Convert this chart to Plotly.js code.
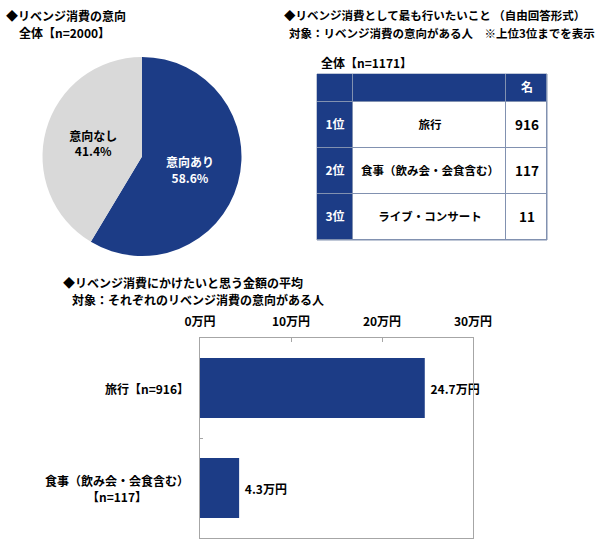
<!DOCTYPE html>
<html><head><meta charset="utf-8">
<script src="https://cdn.plot.ly/plotly-3.0.1.min.js"></script>
<style>html,body{margin:0;padding:0;background:#fff}#c{width:600px;height:544px}</style>
</head><body><div id="c"></div>
<script>
// Pie data
const pieLabels = ['意向あり', '意向なし'];
const pieValues = [58.6, 41.4];
// Table data
const tableHeader = ['', '', '名'];
const ranks = ['1位', '2位', '3位'];
const items = ['旅行', '食事（飲み会・会食含む）', 'ライブ・コンサート'];
const counts = [916, 117, 11];
// Bar data
const barCats = ['旅行【n=916】', '食事（飲み会・会食含む）<br>【n=117】'];
const barValues = [24.7, 4.3];
const xTicks = [0, 10, 20, 30];

const NAVY = '#1c3c86';
const GRID = '#8191b0';
const FONT = '"Noto Sans CJK JP", "Noto Sans", sans-serif';
const W = 600, H = 544;
const px = v => v / W, py = v => 1 - v / H;

// table geometry (layout only)
const colEdges = [0, 36, 189, 230];
const rowEdges = [0, 28, 74, 120, 166];
const tL = 317, tR = 547, tT = 74, tB = 240;

// table cells built from the data arrays: row 0 = header, rows 1.. = ranking
const tableText = [tableHeader].concat(ranks.map((r, i) => [r, items[i], String(counts[i])]));
const isNavy = (i, j) => i === 0 || j === 0;
// one heatmap layer per cell style
function layer(pick) {
  return {
    z: tableText.map((row, i) => row.map((_, j) => pick(i, j) ? (isNavy(i, j) ? 1 : 0) : null)),
    text: tableText.map((row, i) => row.map((t, j) => pick(i, j) ? t : ''))
  };
}
const navyLayer = layer((i, j) => isNavy(i, j));
const itemLayer = layer((i, j) => !isNavy(i, j) && j === 1);
const countLayer = layer((i, j) => !isNavy(i, j) && j === 2);

function cellTrace(l, font) {
  return {
    type: 'heatmap', x: colEdges, y: rowEdges, z: l.z, text: l.text,
    texttemplate: '%{text}', textfont: Object.assign({family: FONT, weight: 700}, font),
    colorscale: [[0, '#ffffff'], [1, NAVY]], zmin: 0, zmax: 1, showscale: false,
    xgap: 1, ygap: 1, hoverinfo: 'none', xaxis: 'x2', yaxis: 'y2'
  };
}

const traces = [
  {
    type: 'pie', labels: pieLabels, values: pieValues, sort: false,
    direction: 'clockwise', rotation: 0,
    domain: {x: [px(42), px(242)], y: [py(256), py(57)]},
    marker: {colors: [NAVY, '#d9d9d9'], line: {width: 0}},
    texttemplate: '%{label}<br>%{value:.1f}%', textposition: 'inside',
    insidetextorientation: 'horizontal',
    insidetextfont: {family: FONT, size: 12, weight: 700, color: ['#ffffff', '#000000']},
    hoverinfo: 'none'
  },
  cellTrace(navyLayer, {size: 12, color: '#ffffff'}),
  cellTrace(itemLayer, {size: 11.5, color: '#000000'}),
  cellTrace(countLayer, {size: 13.5, color: '#000000'}),
  {
    type: 'bar', orientation: 'h', y: barCats, x: barValues, width: 0.6,
    marker: {color: NAVY, line: {width: 0}},
    texttemplate: ' %{x}万円', textposition: 'outside', cliponaxis: false,
    textfont: {family: FONT, size: 12, weight: 700, color: '#000000'},
    hoverinfo: 'none', xaxis: 'x', yaxis: 'y'
  }
];

const annotations = [
  {text: '◆リベンジ消費の意向', x: px(4), y: py(15), size: 12},
  {text: '全体【n=2000】', x: px(17), y: py(32), size: 12},
  {text: '◆リベンジ消費として最も行いたいこと （自由回答形式）', x: px(282), y: py(15), size: 11.5},
  {text: '対象：リベンジ消費の意向がある人　※上位3位までを表示', x: px(287), y: py(33), size: 11.5},
  {text: '全体【n=1171】', x: px(319), y: py(62), size: 12},
  {text: '◆リベンジ消費にかけたいと思う金額の平均', x: px(61), y: py(282), size: 12},
  {text: '対象：それぞれのリベンジ消費の意向がある人', x: px(70), y: py(299), size: 12}
].map(a => ({text: a.text, x: a.x, y: a.y, xref: 'paper', yref: 'paper', xanchor: 'left', yanchor: 'middle',
  showarrow: false, font: {family: FONT, size: a.size, weight: 700, color: '#000'}}));

barCats.forEach(c => annotations.push({
  text: c, xref: 'paper', yref: 'y', x: px(191), y: c, xanchor: 'right', yanchor: 'middle',
  align: 'center', showarrow: false, font: {family: FONT, size: 12, weight: 700, color: '#000'}
}));

const layout = {
  width: W, height: H, margin: {l: 0, r: 0, t: 0, b: 0},
  paper_bgcolor: '#fff', plot_bgcolor: 'rgba(0,0,0,0)', showlegend: false,
  font: {family: FONT},
  xaxis: {
    domain: [px(200), px(473)], range: [0, 30], side: 'top', tickvals: xTicks,
    ticktext: xTicks.map(v => v + '万円'), showgrid: false, zeroline: false,
    showline: true, mirror: true, linecolor: '#a6a6a6', linewidth: 1,
    ticks: 'inside', ticklen: 4, tickcolor: '#a6a6a6', ticklabelstandoff: 6,
    tickfont: {family: FONT, size: 12, weight: 700, color: '#000'}, fixedrange: true
  },
  yaxis: {
    domain: [py(538), py(338)], type: 'category', range: [1.5, -0.5],
    showticklabels: false, showgrid: false, zeroline: false,
    showline: true, mirror: true, linecolor: '#a6a6a6', linewidth: 1,
    ticks: 'inside', tickson: 'boundaries', ticklen: 3, tickcolor: '#a6a6a6', fixedrange: true
  },
  xaxis2: {domain: [px(tL), px(tR)], range: [colEdges[0], colEdges[colEdges.length - 1]], visible: false, anchor: 'y2', fixedrange: true},
  yaxis2: {domain: [py(tB), py(tT)], range: [rowEdges[rowEdges.length - 1], rowEdges[0]], visible: false, anchor: 'x2', fixedrange: true},
  shapes: [
    {type: 'rect', xref: 'paper', yref: 'paper', x0: px(tL), x1: px(tR), y0: py(tB), y1: py(tT),
     fillcolor: GRID, line: {color: GRID, width: 1}, layer: 'below'}
  ],
  annotations: annotations
};

Plotly.newPlot('c', traces, layout, {staticPlot: true, displayModeBar: false});
</script>
</body></html>
